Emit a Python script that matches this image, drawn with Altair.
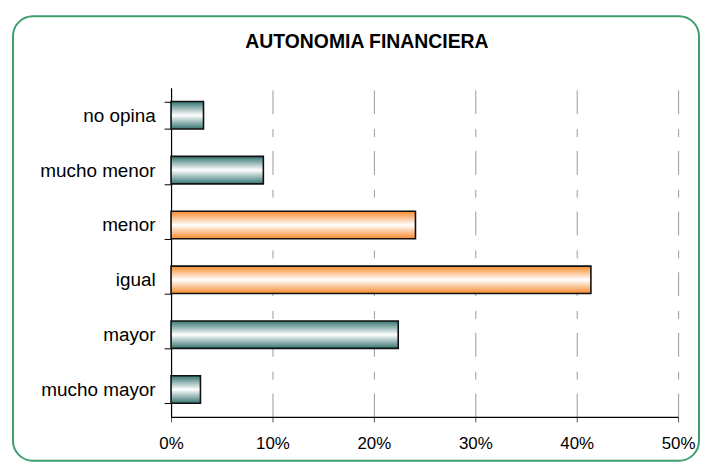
import altair as alt
import pandas as pd

categories = ["no opina", "mucho menor", "menor", "igual", "mayor", "mucho mayor"]
values = [0.032, 0.091, 0.241, 0.414, 0.224, 0.029]
groups = ["teal", "teal", "orange", "orange", "teal", "teal"]
x_ticks = [0, 0.1, 0.2, 0.3, 0.4, 0.5]
title_text = "AUTONOMIA FINANCIERA"

df = pd.DataFrame({"cat": categories, "val": values, "grp": groups})

FONT = "Liberation Sans"

def grad(edge):
    return alt.Gradient(
        gradient="linear", x1=0, x2=0, y1=0, y2=1,
        stops=[alt.GradientStop(color=edge, offset=0),
               alt.GradientStop(color="#ffffff", offset=0.5),
               alt.GradientStop(color=edge, offset=1)])

x_enc = alt.X("val:Q", scale=alt.Scale(domain=[0, 0.5], nice=False, zero=True),
              axis=alt.Axis(values=x_ticks, format=".0%", title=None, grid=True,
                            gridColor="#9a9a9a", gridDash=[24, 14, 8, 15], gridWidth=1,
                            domainColor="#000000", domainWidth=1.2,
                            tickColor="#555555", tickSize=5,
                            labelFont=FONT, labelFontSize=17, labelColor="#000000",
                            labelPadding=14, labelFlush=False))
y_enc = alt.Y("cat:N", sort=categories,
              scale=alt.Scale(paddingInner=0.5, paddingOuter=0.25),
              axis=alt.Axis(title=None, grid=False, tickBand="extent",
                            domainColor="#000000", domainWidth=1.2,
                            tickColor="#000000", tickSize=7,
                            labelFont=FONT, labelFontSize=19, labelColor="#000000",
                            labelPadding=9))

teal = alt.Chart(df).transform_filter(alt.datum.grp == "teal").mark_bar(
    fill=grad("#357571"), stroke="#111111", strokeWidth=1.6
).encode(x=x_enc, y=y_enc)

orange = alt.Chart(df).transform_filter(alt.datum.grp == "orange").mark_bar(
    fill=grad("#f88a2c"), stroke="#111111", strokeWidth=1.6
).encode(x=x_enc, y=y_enc)

frame = alt.Chart(alt.Data(values=[{"a": 1}])).mark_rect(
    fill="#ffffff", fillOpacity=0, stroke="#3d9e6e", strokeWidth=2, cornerRadius=20
).encode(x=alt.value(-159), x2=alt.value(531), y=alt.value(-72), y2=alt.value(375))

title = alt.Chart(alt.Data(values=[{"t": title_text}])).mark_text(
    font=FONT, fontSize=19.5, fontWeight="bold", color="#000000", align="center",
    baseline="alphabetic"
).encode(x=alt.value(197), y=alt.value(-40), text="t:N")

chart = alt.layer(frame, teal, orange, title).properties(
    width=510, height=331,
    autosize=alt.AutoSizeParams(type="none"),
    padding={"left": 164, "top": 79, "right": 22, "bottom": 44},
    background="#ffffff",
).configure_view(stroke=None)

chart.save("out.html", embed_options={"renderer": "svg", "actions": False})
